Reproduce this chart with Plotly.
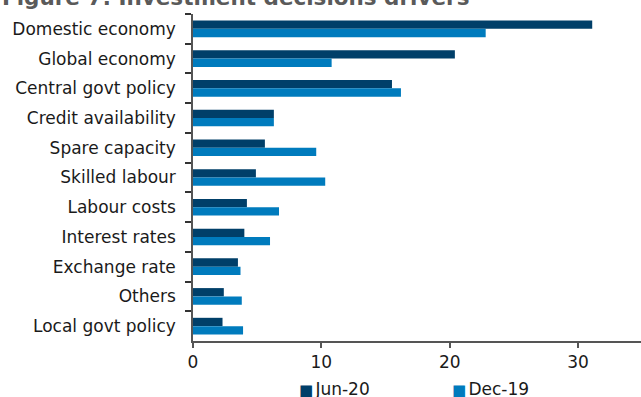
import plotly.graph_objects as go

categories = ["Domestic economy", "Global economy", "Central govt policy", "Credit availability",
              "Spare capacity", "Skilled labour", "Labour costs", "Interest rates",
              "Exchange rate", "Others", "Local govt policy"]
jun20 = [31.1, 20.4, 15.5, 6.3, 5.6, 4.9, 4.2, 4.0, 3.5, 2.4, 2.3]
dec19 = [22.8, 10.8, 16.2, 6.3, 9.6, 10.3, 6.7, 6.0, 3.7, 3.8, 3.9]
series_names = ["Jun-20", "Dec-19"]
colors = ["#003f69", "#007bbd"]
title_text = "Figure 7: Investment decisions drivers"

FONT = "DejaVu Sans"
FS = 17

fig = go.Figure()
for name, vals, col in zip(series_names, [jun20, dec19], colors):
    fig.add_trace(go.Bar(y=categories, x=vals, name=name, orientation="h",
                         marker=dict(color=col, line=dict(width=0)), showlegend=False))

fig.update_layout(
    width=641, height=397,
    margin=dict(l=193, r=0, t=14, b=56),
    paper_bgcolor="white", plot_bgcolor="white",
    barmode="group", bargap=0.44, bargroupgap=0,
    font=dict(family=FONT, size=FS, color="#1a1a1a"),
    xaxis=dict(range=[0, 34.9], tickvals=[0, 10, 20, 30], showgrid=False, zeroline=False,
               showline=True, linecolor="#555555", linewidth=1.5,
               ticks="outside", ticklen=5, tickcolor="#555555", tickwidth=1.5,
               tickfont=dict(family=FONT, size=FS, color="#1a1a1a")),
    yaxis=dict(autorange="reversed", showgrid=False, zeroline=False,
               showline=True, linecolor="#555555", linewidth=1.5,
               ticks="outside", ticklen=6, tickcolor="#333333", tickwidth=1.5,
               tickson="boundaries", ticklabelstandoff=12,
               tickfont=dict(family=FONT, size=FS, color="#1a1a1a")),
)

fig.add_annotation(text="<b>" + title_text + "</b>", xref="paper", yref="paper",
                   x=-193/448, y=1 + 7/327, xanchor="left", yanchor="bottom",
                   yshift=-5, showarrow=False,
                   font=dict(family=FONT, size=21.5, color="#5a5a5a"))

legend_x = [297, 450]
for name, col, lx in zip(series_names, colors, legend_x):
    fig.add_annotation(text=(f"<span style='color:{col};font-size:15px'>■</span>"
                             f"<span style='font-size:7px'>&nbsp;</span>{name}"),
                       xref="paper", yref="paper",
                       x=(lx - 193) / 448, y=-(389 - 341) / 327,
                       xanchor="left", yanchor="middle", showarrow=False,
                       font=dict(family=FONT, size=FS, color="#1a1a1a"))

fig.write_html("out.html")
